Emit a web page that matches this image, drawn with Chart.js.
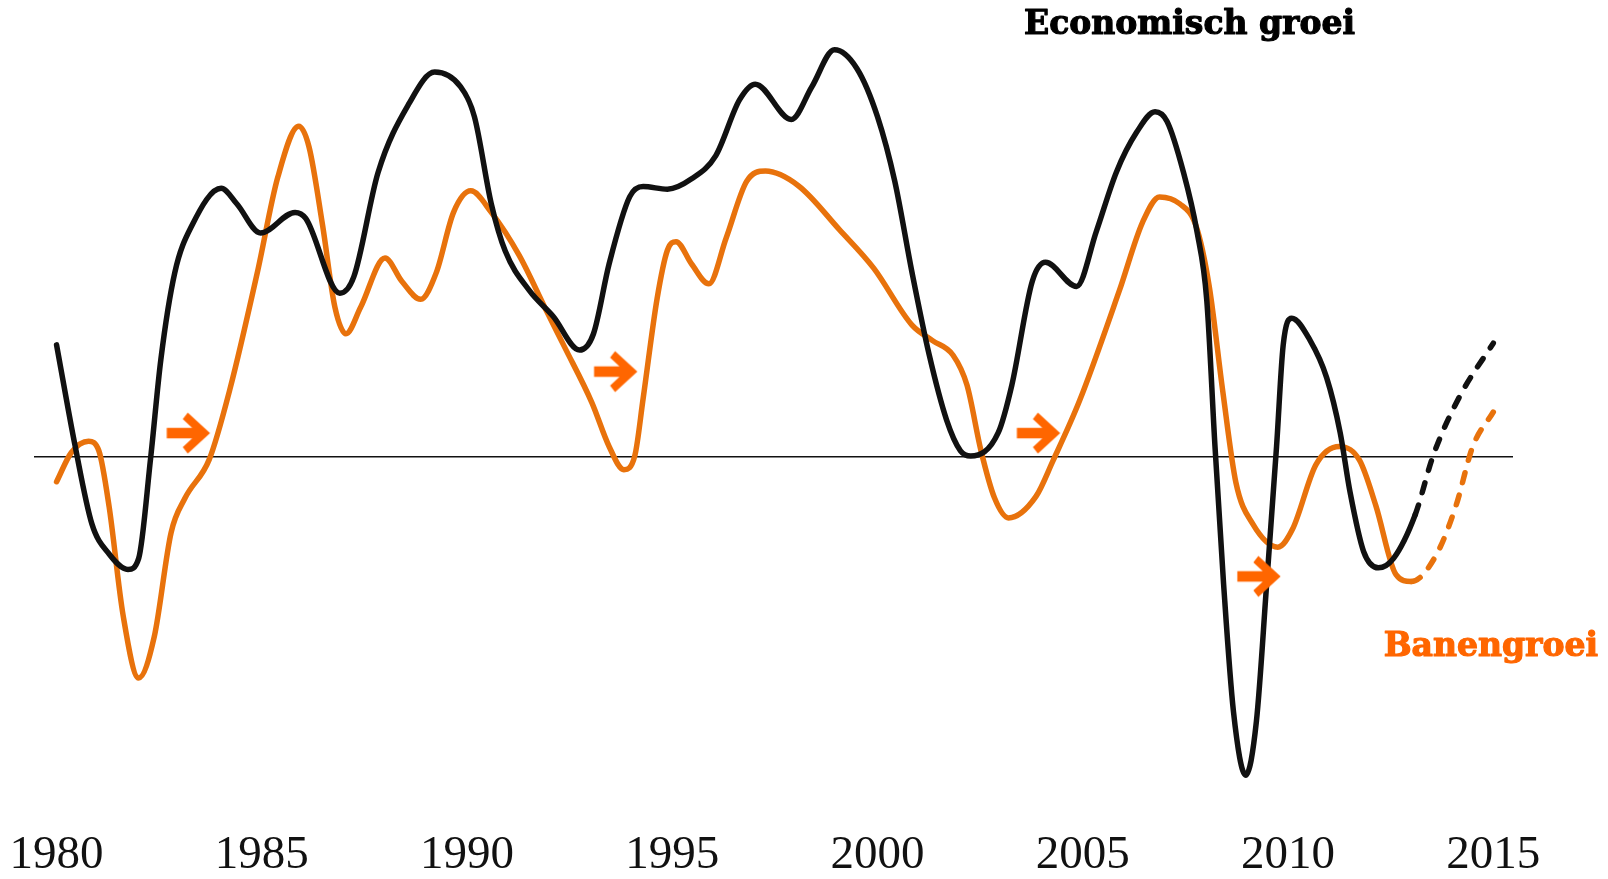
<!DOCTYPE html>
<html>
<head>
<meta charset="utf-8">
<script src="https://cdn.jsdelivr.net/npm/chart.js@4/dist/chart.umd.min.js"></script>
<style>
  html, body { margin: 0; padding: 0; background: #ffffff; }
  #wrap { width: 1608px; height: 879px; }
</style>
</head>
<body>
<div id="wrap"><canvas id="c" width="1608" height="879"></canvas></div>
<script>
// ---- data (years, growth in %) ----
const econYears = [1980.00,1980.45,1980.86,1981.28,1981.74,1982.00,1982.29,1982.54,1982.88,1983.30,1984.01,1984.39,1984.97,1985.81,1986.07,1986.90,1987.24,1987.83,1988.58,1989.21,1989.84,1990.18,1990.59,1990.93,1991.52,1992.10,1992.74,1993.08,1993.46,1993.96,1994.29,1994.88,1995.47,1996.06,1996.64,1997.02,1997.90,1998.40,1998.95,1999.50,2000.00,2000.42,2000.84,2001.26,2001.68,2002.02,2002.27,2002.94,2003.27,2003.77,2004.09,2004.85,2005.33,2005.82,2006.31,2006.76,2007.05,2007.45,2007.78,2008.02,2008.22,2008.43,2008.67,2008.97,2009.23,2009.48,2009.72,2009.88,2010.09,2010.54,2010.94,2011.27,2011.51,2011.84,2012.20,2012.57,2013.10,2013.54,2014.19,2015.00];
const econValues = [1.30,0.13,-0.78,-1.13,-1.31,-1.18,-0.02,1.13,2.14,2.69,3.12,2.94,2.60,2.84,2.77,1.90,2.09,3.30,4.10,4.47,4.30,3.95,2.94,2.39,1.93,1.63,1.24,1.43,2.24,3.02,3.14,3.11,3.23,3.50,4.15,4.33,3.92,4.30,4.73,4.51,3.95,3.20,2.14,1.18,0.43,0.07,0.01,0.28,0.83,2.04,2.26,1.98,2.62,3.31,3.77,4.01,3.90,3.31,2.62,1.82,0.12,-1.48,-2.96,-3.70,-3.07,-1.47,0.12,1.29,1.61,1.35,0.92,0.28,-0.41,-1.10,-1.29,-1.18,-0.67,0.02,0.71,1.32];
const econForecastFrom = 2013.10;

const jobsYears = [1980.00,1980.36,1980.78,1981.03,1981.28,1981.62,1982.00,1982.38,1982.79,1983.13,1983.72,1984.22,1984.89,1985.39,1985.90,1986.15,1986.48,1986.78,1987.05,1987.41,1988.00,1988.41,1988.87,1989.25,1989.67,1990.09,1990.59,1991.27,1991.94,1992.37,1993.04,1993.46,1993.82,1994.09,1994.29,1994.63,1994.88,1995.09,1995.47,1995.89,1996.31,1996.81,1997.27,1998.07,1999.07,1999.91,2000.84,2001.34,2001.84,2002.18,2002.52,2002.85,2003.19,2003.86,2004.27,2004.92,2005.89,2006.46,2006.87,2007.36,2007.76,2008.08,2008.41,2008.73,2009.14,2009.75,2010.11,2010.68,2011.25,2011.74,2012.14,2012.63,2013.00,2013.60,2014.09,2014.50,2015.00];
const jobsValues = [-0.29,0.05,0.18,0.07,-0.58,-1.84,-2.57,-2.09,-0.88,-0.48,-0.03,0.78,2.14,3.25,3.84,3.60,2.69,1.74,1.43,1.74,2.31,2.04,1.83,2.14,2.84,3.09,2.84,2.34,1.69,1.28,0.63,0.12,-0.15,0.02,0.68,1.84,2.40,2.50,2.24,2.01,2.54,3.20,3.32,3.15,2.64,2.19,1.53,1.35,1.18,0.83,0.07,-0.48,-0.71,-0.46,-0.05,0.65,1.93,2.73,3.02,2.94,2.68,1.98,0.76,-0.30,-0.78,-1.05,-0.84,-0.09,0.12,-0.04,-0.57,-1.37,-1.45,-1.15,-0.57,0.12,0.52];
const jobsForecastFrom = 2013.00;

// lead arrows (year, value)
const arrowYears  = [1983.21, 1993.62, 2003.92, 2009.29];
const arrowValues = [0.275, 0.99, 0.275, -1.39];

const tickYears = [1980, 1985, 1990, 1995, 2000, 2005, 2010, 2015];
const xRange = [1979.45, 2015.48];
const yRange = [-4, 5];

const labelEcon = { text: 'Economisch groei', year: 2007.6, value: 5.01 };
const labelJobs = { text: 'Banengroei', year: 2014.94, value: -2.21 };

// ---- helpers ----
const toPts = (xs, ys) => xs.map((x, i) => ({ x: x, y: ys[i] }));

function makeArrow(color) {
  const cv = document.createElement('canvas');
  cv.width = 46; cv.height = 44;
  const c = cv.getContext('2d');
  c.translate(23, 22);
  c.fillStyle = color;
  c.beginPath();
  c.moveTo(-21.6, -5.3);
  c.lineTo(3.8, -5.3);
  c.lineTo(-5.6, -14);
  c.lineTo(-0.6, -20.6);
  c.lineTo(21.7, 0);
  c.lineTo(-0.6, 20.6);
  c.lineTo(-5.6, 14);
  c.lineTo(3.8, 5.3);
  c.lineTo(-21.6, 5.3);
  c.closePath();
  c.fill();
  return cv;
}
const arrowImg = makeArrow('#FF6600');

const dashAfter = (from) => (ctx) => (ctx.p0.parsed.x >= from - 1e-6 ? [10, 13] : undefined);

const textPlugin = {
  id: 'seriesLabels',
  afterDatasetsDraw(chart) {
    const { ctx, scales } = chart;
    ctx.save();
    ctx.textAlign = 'center';
    ctx.textBaseline = 'middle';
    ctx.font = 'bold 33px "DejaVu Serif"';
    ctx.lineWidth = 1.2;
    ctx.lineJoin = 'round';
    const draw = (lab, color) => {
      const x = scales.x.getPixelForValue(lab.year);
      const y = scales.y.getPixelForValue(lab.value);
      ctx.fillStyle = color;
      ctx.strokeStyle = color;
      ctx.fillText(lab.text, x, y);
      ctx.strokeText(lab.text, x, y);
    };
    draw(labelEcon, '#000000');
    draw(labelJobs, '#FF6600');
    ctx.restore();
  }
};

new Chart(document.getElementById('c'), {
  type: 'line',
  data: {
    datasets: [
      {
        label: 'arrows',
        data: toPts(arrowYears, arrowValues),
        showLine: false,
        pointStyle: arrowImg,
        pointRadius: 20,
        borderWidth: 0
      },
      {
        label: 'Economisch groei',
        data: toPts(econYears, econValues),
        borderColor: '#111111',
        borderWidth: 5.5,
        pointRadius: 0,
        cubicInterpolationMode: 'monotone',
        borderCapStyle: 'round',
        borderJoinStyle: 'round',
        segment: { borderDash: dashAfter(econForecastFrom) }
      },
      {
        label: 'Banengroei',
        data: toPts(jobsYears, jobsValues),
        borderColor: '#E8720C',
        borderWidth: 5.5,
        pointRadius: 0,
        cubicInterpolationMode: 'monotone',
        borderCapStyle: 'round',
        borderJoinStyle: 'round',
        segment: { borderDash: dashAfter(jobsForecastFrom) }
      },
      {
        label: 'zero',
        data: [{ x: xRange[0], y: 0 }, { x: xRange[1], y: 0 }],
        borderColor: '#111111',
        borderWidth: 1.6,
        pointRadius: 0
      }
    ]
  },
  options: {
    responsive: false,
    animation: false,
    devicePixelRatio: 1,
    clip: false,
    layout: { padding: { left: 34, right: 95, top: 26.5, bottom: 0 } },
    plugins: { legend: { display: false }, tooltip: { enabled: false }, title: { display: false } },
    scales: {
      x: {
        type: 'linear',
        min: xRange[0],
        max: xRange[1],
        grid: { display: false, drawTicks: false },
        border: { display: false },
        afterBuildTicks: (scale) => { scale.ticks = tickYears.map(v => ({ value: v })); },
        afterFit: (scale) => {
          scale.height = 78;
          scale.paddingLeft = 0;
          scale.paddingRight = 0;
        },
        ticks: {
          autoSkip: false,
          maxRotation: 0,
          padding: 31,
          color: '#111111',
          font: { family: '"Liberation Serif"', size: 47, lineHeight: 1 },
          callback: (v) => String(v)
        }
      },
      y: {
        display: false,
        min: yRange[0],
        max: yRange[1]
      }
    }
  },
  plugins: [textPlugin]
});
</script>
</body>
</html>
